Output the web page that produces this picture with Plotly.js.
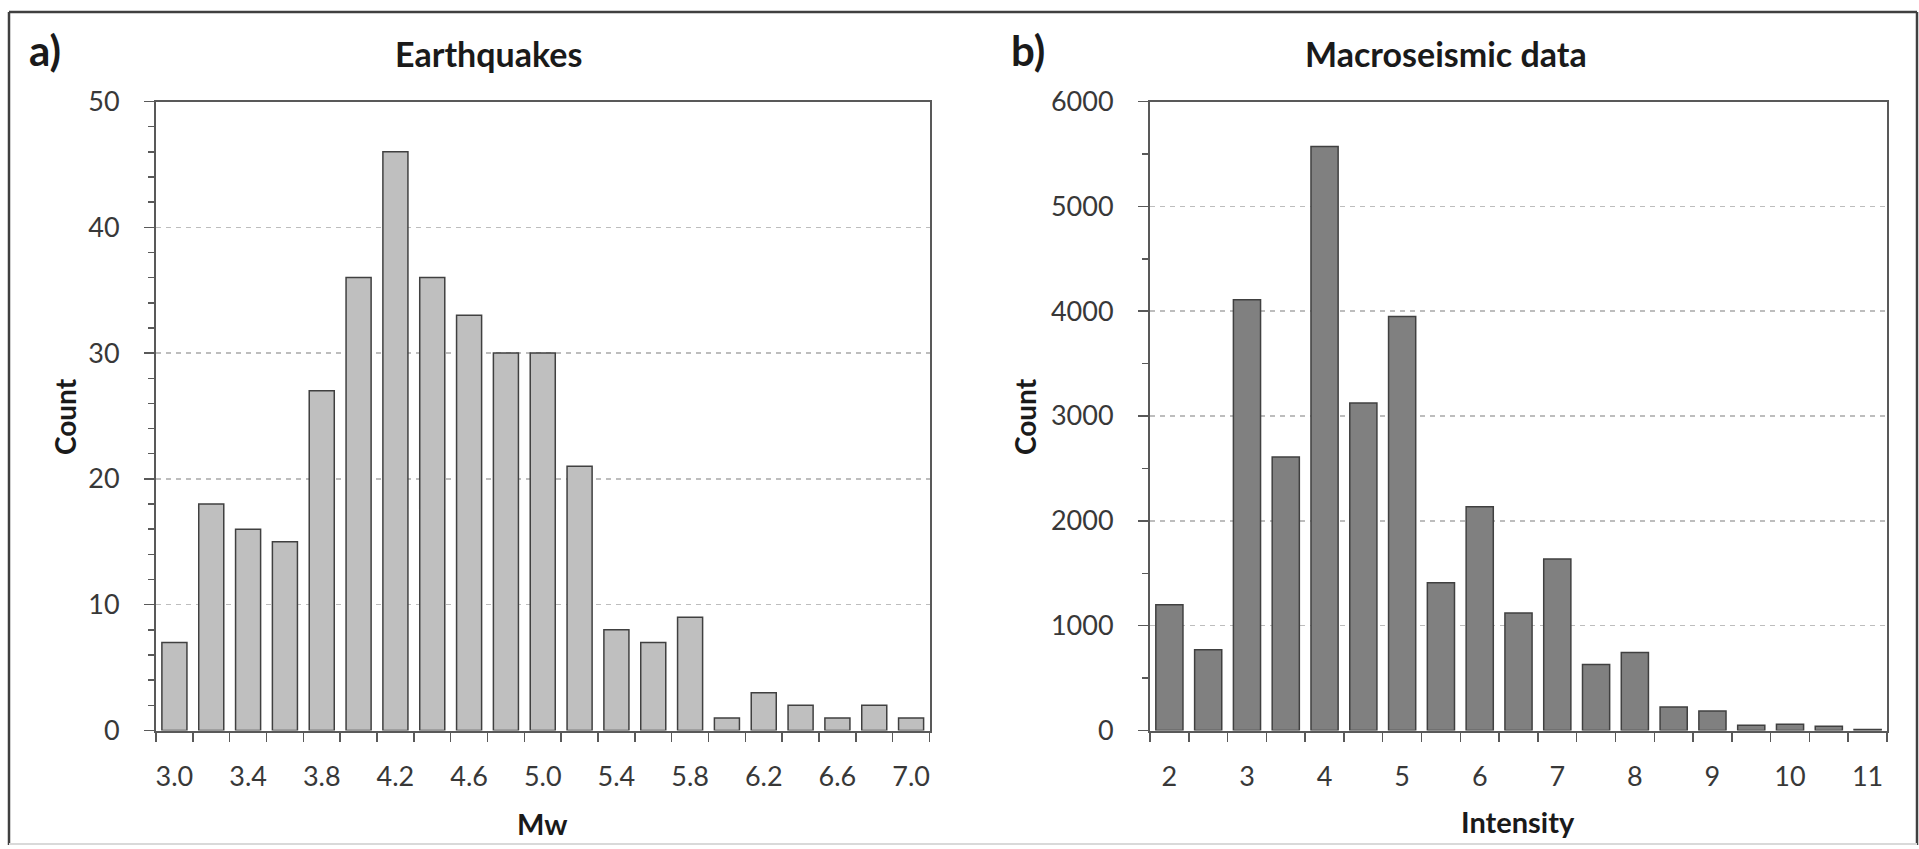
<!DOCTYPE html>
<html>
<head>
<meta charset="utf-8">
<script src="https://cdn.plot.ly/plotly-3.0.1.min.js"></script>
<style>html,body{margin:0;padding:0;background:#fff;}#chart{width:1919px;height:849px;}</style>
</head>
<body>
<div id="chart"></div>
<script>
// ---- data ----
const mwBins = [3.0, 3.2, 3.4, 3.6, 3.8, 4.0, 4.2, 4.4, 4.6, 4.8, 5.0, 5.2, 5.4, 5.6, 5.8, 6.0, 6.2, 6.4, 6.6, 6.8, 7.0];
const mwCounts = [7, 18, 16, 15, 27, 36, 46, 36, 33, 30, 30, 21, 8, 7, 9, 1, 3, 2, 1, 2, 1];
const mwTickLabels = [3.0, 3.4, 3.8, 4.2, 4.6, 5.0, 5.4, 5.8, 6.2, 6.6, 7.0];

const intensityBins = [2, 2.5, 3, 3.5, 4, 4.5, 5, 5.5, 6, 6.5, 7, 7.5, 8, 8.5, 9, 9.5, 10, 10.5, 11];
const intensityCounts = [1200, 770, 4110, 2610, 5570, 3125, 3950, 1410, 2135, 1120, 1635, 630, 745, 225, 185, 50, 60, 40, 10];
const intensityTickLabels = [2, 3, 4, 5, 6, 7, 8, 9, 10, 11];

const countTicksLeft = [0, 10, 20, 30, 40, 50];
const countTicksRight = [0, 1000, 2000, 3000, 4000, 5000, 6000];

// ---- geometry helpers (pixels -> paper) ----
const W = 1919, H = 849;
const px = v => v / W;
const py = v => 1 - v / H;

const axisCol = '#595959';
const textCol = '#383838';

const traces = [
  {
    type: 'bar', x: mwBins, y: mwCounts, xaxis: 'x', yaxis: 'y',
    width: 0.136,
    marker: {color: '#bfbfbf', line: {color: '#404040', width: 1.5}},
    hoverinfo: 'x+y'
  },
  {
    type: 'bar', x: intensityBins, y: intensityCounts, xaxis: 'x2', yaxis: 'y2',
    width: 0.35,
    marker: {color: '#808080', line: {color: '#404040', width: 1.5}},
    hoverinfo: 'x+y'
  }
];

const yDomain = [py(730.5), py(101.5)];

function xAxis(domain, range, vals, txt, tick0, dtick, anchor) {
  return {
    domain: domain, anchor: anchor, range: range,
    tickmode: 'array', tickvals: vals, ticktext: txt,
    ticks: '', showline: true, linecolor: axisCol, linewidth: 2, mirror: true,
    showgrid: false, zeroline: false, fixedrange: true,
    tickfont: {family: 'Lato, sans-serif', size: 27, color: textCol},
    ticklabelstandoff: 21,
    minor: {tick0: tick0, dtick: dtick, ticks: 'outside', ticklen: 9, tickwidth: 1.5, tickcolor: axisCol, showgrid: false}
  };
}
function yAxis(range, vals, minorD, anchor) {
  return {
    domain: yDomain, anchor: anchor, range: range,
    tickmode: 'array', tickvals: vals,
    ticks: 'outside', ticklen: 10, tickwidth: 1.5, tickcolor: axisCol,
    showline: true, linecolor: axisCol, linewidth: 2, mirror: true,
    showgrid: true, gridcolor: '#bdbdbd', gridwidth: 1.5, griddash: '5px,5px',
    zeroline: false, fixedrange: true,
    tickfont: {family: 'Lato, sans-serif', size: 27, color: textCol},
    ticklabelstandoff: 19,
    minor: {dtick: minorD, tick0: 0, ticks: 'outside', ticklen: 6, tickwidth: 1.5, tickcolor: axisCol, showgrid: false}
  };
}

const layout = {
  width: W, height: H,
  margin: {l: 0, r: 0, t: 0, b: 0},
  paper_bgcolor: '#ffffff', plot_bgcolor: '#ffffff',
  showlegend: false,
  font: {family: 'Lato, sans-serif', color: textCol},
  xaxis: xAxis([px(156), px(929.5)], [2.9, 7.1], mwTickLabels, mwTickLabels.map(v => v.toFixed(1)), 2.9, 0.2, 'y'),
  yaxis: yAxis([0, 50], countTicksLeft, 2, 'x'),
  xaxis2: xAxis([px(1150), px(1887)], [1.75, 11.25], intensityTickLabels, intensityTickLabels.map(String), 1.75, 0.5, 'y2'),
  yaxis2: yAxis([0, 6000], countTicksRight, 500, 'x2'),
  shapes: [
    {type: 'line', xref: 'paper', yref: 'paper', x0: px(9), x1: px(1917), y0: py(12), y1: py(12), line: {color: '#404040', width: 2.5}},
    {type: 'line', xref: 'paper', yref: 'paper', x0: px(9), x1: px(9), y0: py(12), y1: py(845), line: {color: '#404040', width: 2.5}},
    {type: 'line', xref: 'paper', yref: 'paper', x0: px(1917), x1: px(1917), y0: py(12), y1: py(845), line: {color: '#404040', width: 2.5}},
    {type: 'line', xref: 'paper', yref: 'paper', x0: px(9), x1: px(1917), y0: py(844), y1: py(844), line: {color: '#d9d9d9', width: 2}}
  ],
  annotations: [
    {text: '<b>a)</b>', xref: 'paper', yref: 'paper', x: px(27), y: py(50), xanchor: 'left', yanchor: 'middle', showarrow: false, font: {family: 'Lato, sans-serif', size: 42, color: '#1a1a1a'}},
    {text: '<b>b)</b>', xref: 'paper', yref: 'paper', x: px(1009), y: py(50), xanchor: 'left', yanchor: 'middle', showarrow: false, font: {family: 'Lato, sans-serif', size: 42, color: '#1a1a1a'}},
    {text: '<b>Earthquakes</b>', xref: 'paper', yref: 'paper', x: px(488), y: py(53), xanchor: 'center', yanchor: 'middle', showarrow: false, font: {family: 'Lato, sans-serif', size: 34, color: '#1a1a1a'}},
    {text: '<b>Macroseismic data</b>', xref: 'paper', yref: 'paper', x: px(1446), y: py(53), xanchor: 'center', yanchor: 'middle', showarrow: false, font: {family: 'Lato, sans-serif', size: 34, color: '#1a1a1a'}},
    {text: '<b>Count</b>', xref: 'paper', yref: 'paper', x: px(65), y: py(417), xanchor: 'center', yanchor: 'middle', textangle: -90, showarrow: false, font: {family: 'Lato, sans-serif', size: 28, color: '#1a1a1a'}},
    {text: '<b>Count</b>', xref: 'paper', yref: 'paper', x: px(1025), y: py(417), xanchor: 'center', yanchor: 'middle', textangle: -90, showarrow: false, font: {family: 'Lato, sans-serif', size: 28, color: '#1a1a1a'}},
    {text: '<b>Mw</b>', xref: 'paper', yref: 'paper', x: px(542), y: py(823), xanchor: 'center', yanchor: 'middle', showarrow: false, font: {family: 'Lato, sans-serif', size: 29, color: '#1a1a1a'}},
    {text: '<b>Intensity</b>', xref: 'paper', yref: 'paper', x: px(1518), y: py(821), xanchor: 'center', yanchor: 'middle', showarrow: false, font: {family: 'Lato, sans-serif', size: 29, color: '#1a1a1a'}}
  ]
};

Plotly.newPlot('chart', traces, layout, {displayModeBar: false, staticPlot: true});
</script>
</body>
</html>
